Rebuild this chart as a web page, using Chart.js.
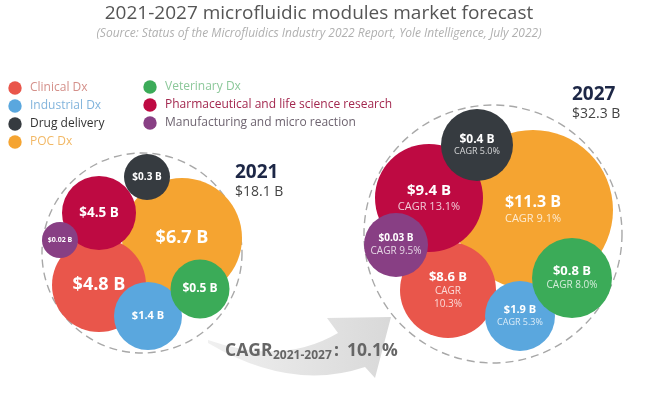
<!DOCTYPE html>
<html>
<head>
<meta charset="utf-8">
<script src="https://cdn.jsdelivr.net/npm/chart.js@4.4.1/dist/chart.umd.min.js"></script>
<style>
  html, body { margin: 0; padding: 0; background: #fff; }
  #chart { display: block; }
</style>
</head>
<body>
<canvas id="chart" width="663" height="398"></canvas>
<script>
// values ($ billions)
const segments = ['Clinical Dx', 'Industrial Dx', 'Drug delivery', 'POC Dx', 'Veterinary Dx', 'Pharmaceutical and life science research', 'Manufacturing and micro reaction'];
const years = ['2021', '2027'];
const value2021 = [4.8, 1.4, 0.3, 6.7, 0.5, 4.5, 0.02];
const value2027 = [8.6, 1.9, 0.4, 11.3, 0.8, 9.4, 0.03];
const cagr2027 = [10.3, 5.3, 5.0, 9.1, 8.0, 13.1, 9.5];
const totals = [18.1, 32.3];
const totalCagr = 10.1;

// layout of the packed bubbles (pixel space), kept apart from the data
const pos2021 = [[99, 285], [148, 316], [147, 177], [182, 238], [200, 289], [99, 213], [60, 240]];
const rad2021 = [47, 34, 23, 60, 29.5, 37, 18];
const pos2027 = [[448, 290], [520, 316], [477, 145], [533, 210], [572, 278], [429, 198], [396, 245]];
const rad2027 = [48, 35, 36, 80, 40, 54, 32];
const ring2021 = [142, 253, 100];
const ring2027 = [493, 234, 129];
const valueFont2021 = [18, 11, 10, 18, 12, 13.5, 7];
const valueFont2027 = [13, 11, 12, 16, 13, 15, 10];
const cagrFont2027 = [10, 9, 9, 11, 10, 11, 10];
const wrapCagr = [true, false, false, false, false, false, false];

const colors = ['#E9564B', '#5AA7DE', '#363B40', '#F5A431', '#3BAB58', '#BE0A42', '#883F84'];
const legendText = ['#D4908A', '#82B4DC', '#333333', '#F2B865', '#8CC89A', '#A3284F', '#6E6470'];
const drawOrder = [5, 1, 3, 6, 0, 4, 2];

const FONT = '"Open Sans", "Liberation Sans", sans-serif';

function fmt(v) {
    return '$' + v + ' B';
}

const datasets = segments.map((name, i) => ({
    label: name,
    data: [
        { x: pos2021[i][0], y: pos2021[i][1], r: rad2021[i], v: value2021[i] },
        { x: pos2027[i][0], y: pos2027[i][1], r: rad2027[i], v: value2027[i] }
    ],
    backgroundColor: colors[i],
    borderWidth: 0,
    hoverBorderWidth: 0,
    order: drawOrder[i]
}));

const decorPlugin = {
    id: 'decor',
    beforeDatasetsDraw(chart) {
        const ctx = chart.ctx;
        const xs = chart.scales.x, ys = chart.scales.y;
        ctx.save();

        // dashed rings
        ctx.strokeStyle = '#A8A8A8';
        ctx.lineWidth = 1.4;
        ctx.setLineDash([8, 5]);
        [ring2021, ring2027].forEach(c => {
            ctx.beginPath();
            ctx.arc(xs.getPixelForValue(c[0]), ys.getPixelForValue(c[1]), c[2], 0, Math.PI * 2);
            ctx.stroke();
        });
        ctx.setLineDash([]);

        // grey swoosh arrow
        const g = ctx.createLinearGradient(210, 0, 395, 0);
        g.addColorStop(0, '#F0F0F0');
        g.addColorStop(1, '#D8D8D8');
        ctx.fillStyle = g;
        ctx.beginPath();
        ctx.moveTo(208, 340);
        ctx.quadraticCurveTo(282, 366, 338, 333);
        ctx.lineTo(327, 318);
        ctx.lineTo(391, 317);
        ctx.lineTo(375, 378);
        ctx.lineTo(365, 367);
        ctx.quadraticCurveTo(291, 392, 208, 343);
        ctx.closePath();
        ctx.fill();

        // CAGR text over the arrow
        ctx.fillStyle = '#666';
        ctx.textBaseline = 'alphabetic';
        ctx.textAlign = 'left';
        ctx.font = 'bold 17.5px ' + FONT;
        ctx.fillText('CAGR', 225, 356);
        ctx.font = 'bold 12px ' + FONT;
        ctx.fillText(years[0] + '-' + years[1], 273, 359);
        ctx.font = 'bold 17.5px ' + FONT;
        ctx.fillText(':', 334, 356);
        ctx.fillText(totalCagr + '%', 347, 356);

        ctx.restore();
    },
    afterDatasetsDraw(chart) {
        const ctx = chart.ctx;
        ctx.save();
        ctx.textAlign = 'center';
        ctx.textBaseline = 'middle';
        chart.data.datasets.forEach((ds, i) => {
            const meta = chart.getDatasetMeta(i);
            meta.data.forEach((el, j) => {
                const cx = el.x, cy = el.y;
                if (j === 0) {
                    ctx.font = 'bold ' + valueFont2021[i] + 'px ' + FONT;
                    ctx.fillStyle = '#fff';
                    ctx.fillText(fmt(ds.data[j].v), cx, cy);
                } else {
                    const vf = valueFont2027[i], cf = cagrFont2027[i];
                    const lines = wrapCagr[i] ? ['CAGR', cagr2027[i].toFixed(1) + '%'] : ['CAGR ' + cagr2027[i].toFixed(1) + '%'];
                    const h = vf * 1.15 + lines.length * cf * 1.3;
                    let y = cy - h / 2;
                    ctx.font = 'bold ' + vf + 'px ' + FONT;
                    ctx.fillStyle = '#fff';
                    ctx.fillText(fmt(ds.data[j].v), cx, y + vf * 0.575);
                    y += vf * 1.15;
                    ctx.font = cf + 'px ' + FONT;
                    ctx.fillStyle = 'rgba(255,255,255,0.78)';
                    lines.forEach(t => {
                        ctx.fillText(t, cx, y + cf * 0.65);
                        y += cf * 1.3;
                    });
                }
            });
        });
        ctx.restore();
    },
    afterDraw(chart) {
        const ctx = chart.ctx;
        ctx.save();
        ctx.textBaseline = 'middle';

        // title and source
        ctx.textAlign = 'center';
        ctx.fillStyle = '#555';
        ctx.font = '19px ' + FONT;
        ctx.fillText('2021-2027 microfluidic modules market forecast', 319, 14);
        ctx.fillStyle = '#B0B0B0';
        ctx.font = 'italic 12px ' + FONT;
        ctx.fillText('(Source: Status of the Microfluidics Industry 2022 Report, Yole Intelligence, July 2022)', 319, 34);

        // legend
        ctx.textAlign = 'left';
        ctx.font = '12px ' + FONT;
        segments.forEach((name, i) => {
            const col = i < 4 ? 0 : 1;
            const row = i < 4 ? i : i - 4;
            const cx = col === 0 ? 15 : 150;
            const cy = (col === 0 ? 88 : 87) + row * 18;
            ctx.fillStyle = colors[i];
            ctx.beginPath();
            ctx.arc(cx, cy, 6.7, 0, Math.PI * 2);
            ctx.fill();
            ctx.fillStyle = legendText[i];
            ctx.fillText(name, cx + 15, cy);
        });

        // year totals
        ctx.fillStyle = '#1D2746';
        ctx.font = 'bold 19px ' + FONT;
        ctx.fillText(years[0], 235, 173);
        ctx.fillText(years[1], 572, 95);
        ctx.fillStyle = '#444';
        ctx.font = '14px ' + FONT;
        ctx.fillText(fmt(totals[0]), 235, 192);
        ctx.fillText(fmt(totals[1]), 572, 114);
        ctx.restore();
    }
};

new Chart(document.getElementById('chart'), {
    type: 'bubble',
    data: { datasets },
    options: {
        responsive: false,
        animation: false,
        events: [],
        layout: { padding: 0, autoPadding: false },
        scales: {
            x: { type: 'linear', min: 0, max: 663, display: false },
            y: { type: 'linear', min: 0, max: 398, reverse: true, display: false }
        },
        plugins: {
            legend: { display: false },
            tooltip: { enabled: false }
        }
    },
    plugins: [decorPlugin]
});
</script>
</body>
</html>
